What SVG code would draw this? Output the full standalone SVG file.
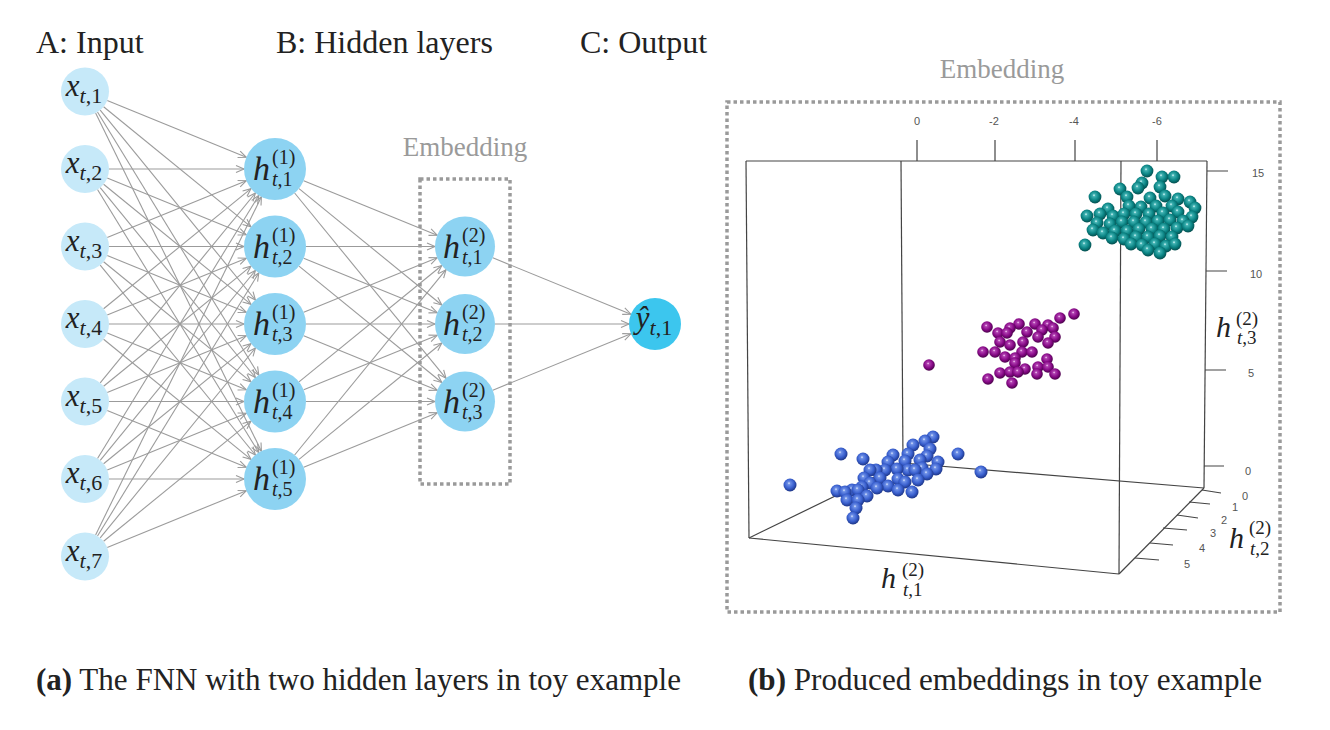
<svg xmlns="http://www.w3.org/2000/svg" width="1330" height="730" viewBox="0 0 1330 730">
<defs>
<style>
.ser{font-family:"Liberation Serif","Times New Roman",serif;fill:#222}
.i{font-style:italic}
.tick{font-family:"Liberation Sans",Arial,sans-serif;font-size:11px;fill:#555;text-anchor:middle}
.c path{fill:none;stroke:#9b9b9b;stroke-width:1.1;marker-end:url(#ah)}
.nin{fill:#c6e9f9}
.nh{fill:#8dd3f2}
.nout{fill:#3cc6ee}
.dot{fill:none;stroke:#9a9a9a;stroke-width:3.5;stroke-dasharray:3.5 3}
.ax line,.ax path{stroke:#444;stroke-width:1.2;fill:none}
</style>
<marker id="ah" markerWidth="12" markerHeight="10" refX="9" refY="4" orient="auto" markerUnits="userSpaceOnUse" overflow="visible">
<path d="M1,0.5 L9,4 L1,7.5" fill="none" stroke="#9b9b9b" stroke-width="1.1"/>
</marker>
<radialGradient id="gT" cx="0.45" cy="0.42" r="0.6" fx="0.42" fy="0.36">
<stop offset="0" stop-color="#e8ffff"/><stop offset="0.18" stop-color="#3fb1b1"/><stop offset="0.6" stop-color="#0b8585"/><stop offset="1" stop-color="#034a4a"/>
</radialGradient>
<radialGradient id="gP" cx="0.45" cy="0.42" r="0.6" fx="0.42" fy="0.36">
<stop offset="0" stop-color="#ffe0ff"/><stop offset="0.18" stop-color="#b040b0"/><stop offset="0.6" stop-color="#880a88"/><stop offset="1" stop-color="#430043"/>
</radialGradient>
<radialGradient id="gB" cx="0.45" cy="0.42" r="0.6" fx="0.42" fy="0.36">
<stop offset="0" stop-color="#e6eeff"/><stop offset="0.18" stop-color="#6d8fe6"/><stop offset="0.6" stop-color="#3a60cf"/><stop offset="1" stop-color="#1a3180"/>
</radialGradient>
</defs>
<rect width="1330" height="730" fill="#fff"/>

<!-- titles -->
<g id="titles" class="ser" font-size="32">
<text x="36" y="53">A: Input</text>
<text x="276" y="53">B: Hidden layers</text>
<text x="580" y="53">C: Output</text>
</g>

<!-- embedding box (left) -->
<g id="embedding-box">
<text class="ser" x="465" y="156" font-size="27" text-anchor="middle" style="fill:#9a9a9a">Embedding</text>
<rect class="dot" x="420" y="179" width="90" height="305"/>
</g>

<!-- connectors -->
<g id="connectors" class="c">
<path d="M107.2,100.6L246.3,157.3"/><path d="M103.6,106.7L251,226.9"/><path d="M100.2,110.1L255.4,300"/><path d="M97.5,112L258.8,375.1"/><path d="M95.6,113.1L261.4,451.2"/>
<path d="M109,169L244,169"/><path d="M107.2,178.1L246.3,234.8"/><path d="M103.6,184.2L251,304.4"/><path d="M100.2,187.6L255.4,377.5"/><path d="M97.5,189.5L258.8,452.6"/>
<path d="M107.2,237.4L246.3,180.7"/><path d="M109,246.5L244,246.5"/><path d="M107.2,255.6L246.3,312.3"/><path d="M103.6,261.7L251,381.9"/><path d="M100.2,265.1L255.4,455"/>
<path d="M103.6,308.8L251,188.6"/><path d="M107.2,314.9L246.3,258.2"/><path d="M109,324L244,324"/><path d="M107.2,333.1L246.3,389.8"/><path d="M103.6,339.2L251,459.4"/>
<path d="M100.2,382.9L255.4,193"/><path d="M103.6,386.3L251,266.1"/><path d="M107.2,392.4L246.3,335.7"/><path d="M109,401.5L244,401.5"/><path d="M107.2,410.6L246.3,467.3"/>
<path d="M97.5,458.5L258.8,195.4"/><path d="M100.2,460.4L255.4,270.5"/><path d="M103.6,463.8L251,343.6"/><path d="M107.2,469.9L246.3,413.2"/><path d="M109,479L244,479"/>
<path d="M95.6,534.9L261.4,196.8"/><path d="M97.5,536L258.8,272.9"/><path d="M100.2,537.9L255.4,348"/><path d="M103.6,541.3L251,421.1"/><path d="M107.2,547.4L246.3,490.7"/>
<path d="M303.7,180.7L437.2,235.2"/><path d="M299,188.6L441.8,305"/><path d="M294.6,193L446,378.3"/>
<path d="M306,246.5L435,246.5"/><path d="M303.7,258.2L437.2,312.7"/><path d="M299,266.1L441.8,382.5"/>
<path d="M303.7,312.3L437.2,257.8"/><path d="M306,324L435,324"/><path d="M303.7,335.7L437.2,390.2"/>
<path d="M299,381.9L441.8,265.5"/><path d="M303.7,389.8L437.2,335.3"/><path d="M306,401.5L435,401.5"/>
<path d="M294.6,455L446,269.7"/><path d="M299,459.4L441.8,343"/><path d="M303.7,467.3L437.2,412.8"/>
<path d="M492.8,257.8L630.9,314.2"/><path d="M495,324L629,324"/><path d="M492.8,390.2L630.9,333.8"/>
</g>

<!-- input nodes -->
<g id="x1"><circle class="nin" cx="85" cy="91.5" r="24"/><text class="ser" x="84" y="95.5" font-size="31" text-anchor="middle"><tspan class="i">x</tspan><tspan font-size="22" dy="7"><tspan class="i">t</tspan>,1</tspan></text></g>
<g id="x2"><circle class="nin" cx="85" cy="169" r="24"/><text class="ser" x="84" y="173" font-size="31" text-anchor="middle"><tspan class="i">x</tspan><tspan font-size="22" dy="7"><tspan class="i">t</tspan>,2</tspan></text></g>
<g id="x3"><circle class="nin" cx="85" cy="246.5" r="24"/><text class="ser" x="84" y="250.5" font-size="31" text-anchor="middle"><tspan class="i">x</tspan><tspan font-size="22" dy="7"><tspan class="i">t</tspan>,3</tspan></text></g>
<g id="x4"><circle class="nin" cx="85" cy="324" r="24"/><text class="ser" x="84" y="328" font-size="31" text-anchor="middle"><tspan class="i">x</tspan><tspan font-size="22" dy="7"><tspan class="i">t</tspan>,4</tspan></text></g>
<g id="x5"><circle class="nin" cx="85" cy="401.5" r="24"/><text class="ser" x="84" y="405.5" font-size="31" text-anchor="middle"><tspan class="i">x</tspan><tspan font-size="22" dy="7"><tspan class="i">t</tspan>,5</tspan></text></g>
<g id="x6"><circle class="nin" cx="85" cy="479" r="24"/><text class="ser" x="84" y="483" font-size="31" text-anchor="middle"><tspan class="i">x</tspan><tspan font-size="22" dy="7"><tspan class="i">t</tspan>,6</tspan></text></g>
<g id="x7"><circle class="nin" cx="85" cy="556.5" r="24"/><text class="ser" x="84" y="560.5" font-size="31" text-anchor="middle"><tspan class="i">x</tspan><tspan font-size="22" dy="7"><tspan class="i">t</tspan>,7</tspan></text></g>

<!-- hidden layer 1 -->
<g id="h1_1"><circle class="nh" cx="275" cy="169" r="31"/><text class="ser"><tspan class="i" x="253" y="180" font-size="34">h</tspan><tspan x="272" y="164" font-size="20">(1)</tspan><tspan x="272" y="186" font-size="20"><tspan class="i">t</tspan>,1</tspan></text></g>
<g id="h1_2"><circle class="nh" cx="275" cy="246.5" r="31"/><text class="ser"><tspan class="i" x="253" y="257.5" font-size="34">h</tspan><tspan x="272" y="241.5" font-size="20">(1)</tspan><tspan x="272" y="263.5" font-size="20"><tspan class="i">t</tspan>,2</tspan></text></g>
<g id="h1_3"><circle class="nh" cx="275" cy="324" r="31"/><text class="ser"><tspan class="i" x="253" y="335" font-size="34">h</tspan><tspan x="272" y="319" font-size="20">(1)</tspan><tspan x="272" y="341" font-size="20"><tspan class="i">t</tspan>,3</tspan></text></g>
<g id="h1_4"><circle class="nh" cx="275" cy="401.5" r="31"/><text class="ser"><tspan class="i" x="253" y="412.5" font-size="34">h</tspan><tspan x="272" y="396.5" font-size="20">(1)</tspan><tspan x="272" y="418.5" font-size="20"><tspan class="i">t</tspan>,4</tspan></text></g>
<g id="h1_5"><circle class="nh" cx="275" cy="479" r="31"/><text class="ser"><tspan class="i" x="253" y="490" font-size="34">h</tspan><tspan x="272" y="474" font-size="20">(1)</tspan><tspan x="272" y="496" font-size="20"><tspan class="i">t</tspan>,5</tspan></text></g>

<!-- hidden layer 2 -->
<g id="h2_1"><circle class="nh" cx="465" cy="246.5" r="30"/><text class="ser"><tspan class="i" x="443" y="257.5" font-size="34">h</tspan><tspan x="462" y="241.5" font-size="20">(2)</tspan><tspan x="462" y="263.5" font-size="20"><tspan class="i">t</tspan>,1</tspan></text></g>
<g id="h2_2"><circle class="nh" cx="465" cy="324" r="30"/><text class="ser"><tspan class="i" x="443" y="335" font-size="34">h</tspan><tspan x="462" y="319" font-size="20">(2)</tspan><tspan x="462" y="341" font-size="20"><tspan class="i">t</tspan>,2</tspan></text></g>
<g id="h2_3"><circle class="nh" cx="465" cy="401.5" r="30"/><text class="ser"><tspan class="i" x="443" y="412.5" font-size="34">h</tspan><tspan x="462" y="396.5" font-size="20">(2)</tspan><tspan x="462" y="418.5" font-size="20"><tspan class="i">t</tspan>,3</tspan></text></g>

<!-- output -->
<g id="y1"><circle class="nout" cx="655" cy="324" r="26"/><text class="ser" x="654" y="328" font-size="31" text-anchor="middle"><tspan class="i">ŷ</tspan><tspan font-size="22" dy="7"><tspan class="i">t</tspan>,1</tspan></text></g>

<!-- right panel -->
<g id="embedding-plot">
<text class="ser" x="1002" y="78" font-size="27" text-anchor="middle" style="fill:#9a9a9a">Embedding</text>
<rect class="dot" x="727" y="102" width="553" height="510"/>
<g class="ax">
<path d="M746,161H1207"/>
<path d="M746,161L749,538"/>
<path d="M901,161L903,463"/>
<path d="M1121,161L1119,574"/>
<path d="M1207,161L1204,488"/>
<path d="M749,538L1119,574"/>
<path d="M749,538L903,463"/>
<path d="M903,463L1204,488"/>
<path d="M1204,488L1119,574"/>
<path d="M917,140V161M995,140V161M1075,140V161M1157,140V161"/>
<path d="M1207,171H1228M1206,271H1227M1205,370H1226M1204,466H1224"/>
<path d="M1202,490L1221,493M1189,502L1210,504M1177,515L1198,518M1163,528L1187,530M1150,543L1173,545M1135,558L1159,560"/>
</g>
<g class="tick">
<text x="917" y="125">0</text><text x="994" y="125">-2</text><text x="1074" y="125">-4</text><text x="1157" y="125">-6</text>
<text x="1258" y="177">15</text><text x="1256" y="278">10</text><text x="1251" y="377">5</text><text x="1248" y="475">0</text>
<text x="1245" y="500">0</text><text x="1235" y="511">1</text><text x="1224" y="524">2</text><text x="1213" y="537">3</text><text x="1202" y="552">4</text><text x="1187" y="568">5</text>
</g>
<g fill="url(#gT)">
<circle cx="1147" cy="171" r="6.4"/><circle cx="1162" cy="177" r="6.4"/><circle cx="1174" cy="177" r="6.4"/><circle cx="1142" cy="183" r="6.4"/><circle cx="1138" cy="188" r="6.4"/><circle cx="1160" cy="187" r="6.4"/><circle cx="1120" cy="189" r="6.4"/><circle cx="1095" cy="197" r="6.4"/><circle cx="1127" cy="197" r="6.4"/><circle cx="1150" cy="198" r="6.4"/><circle cx="1165" cy="196" r="6.4"/><circle cx="1178" cy="199" r="6.4"/><circle cx="1190" cy="202" r="6.4"/><circle cx="1172" cy="206" r="6.4"/><circle cx="1156" cy="206" r="6.4"/><circle cx="1141" cy="207" r="6.4"/><circle cx="1129" cy="206" r="6.4"/><circle cx="1108" cy="209" r="6.4"/><circle cx="1100" cy="214" r="6.4"/><circle cx="1087" cy="216" r="6.4"/><circle cx="1113" cy="216" r="6.4"/><circle cx="1124" cy="214" r="6.4"/><circle cx="1136" cy="214" r="6.4"/><circle cx="1149" cy="214" r="6.4"/><circle cx="1163" cy="213" r="6.4"/><circle cx="1178" cy="212" r="6.4"/><circle cx="1195" cy="208" r="6.4"/><circle cx="1192" cy="217" r="6.4"/><circle cx="1097" cy="223" r="6.4"/><circle cx="1110" cy="224" r="6.4"/><circle cx="1122" cy="222" r="6.4"/><circle cx="1134" cy="222" r="6.4"/><circle cx="1146" cy="222" r="6.4"/><circle cx="1158" cy="221" r="6.4"/><circle cx="1170" cy="220" r="6.4"/><circle cx="1183" cy="221" r="6.4"/><circle cx="1093" cy="230" r="6.4"/><circle cx="1103" cy="233" r="6.4"/><circle cx="1115" cy="231" r="6.4"/><circle cx="1127" cy="231" r="6.4"/><circle cx="1139" cy="229" r="6.4"/><circle cx="1152" cy="229" r="6.4"/><circle cx="1164" cy="229" r="6.4"/><circle cx="1177" cy="228" r="6.4"/><circle cx="1188" cy="226" r="6.4"/><circle cx="1112" cy="238" r="6.4"/><circle cx="1124" cy="239" r="6.4"/><circle cx="1136" cy="237" r="6.4"/><circle cx="1148" cy="237" r="6.4"/><circle cx="1160" cy="236" r="6.4"/><circle cx="1172" cy="237" r="6.4"/><circle cx="1085" cy="245" r="6.4"/><circle cx="1131" cy="244" r="6.4"/><circle cx="1142" cy="245" r="6.4"/><circle cx="1155" cy="244" r="6.4"/><circle cx="1166" cy="246" r="6.4"/><circle cx="1175" cy="244" r="6.4"/><circle cx="1148" cy="250" r="6.4"/><circle cx="1160" cy="253" r="6.4"/>
</g>
<g fill="url(#gP)">
<circle cx="929" cy="365" r="5.8"/>
<circle cx="1074" cy="314" r="5.8"/><circle cx="1060" cy="318" r="5.8"/><circle cx="987" cy="327" r="5.8"/><circle cx="1019" cy="324" r="5.8"/><circle cx="1035" cy="324" r="5.8"/><circle cx="1048" cy="325" r="5.8"/><circle cx="1010" cy="328" r="5.8"/><circle cx="1053" cy="328" r="5.8"/><circle cx="1042" cy="330" r="5.8"/><circle cx="1027" cy="332" r="5.8"/><circle cx="998" cy="333" r="5.8"/><circle cx="1007" cy="333" r="5.8"/><circle cx="1038" cy="337" r="5.8"/><circle cx="1055" cy="337" r="5.8"/><circle cx="1000" cy="342" r="5.8"/><circle cx="1023" cy="342" r="5.8"/><circle cx="1048" cy="343" r="5.8"/><circle cx="1010" cy="345" r="5.8"/><circle cx="983" cy="352" r="5.8"/><circle cx="995" cy="352" r="5.8"/><circle cx="1022" cy="352" r="5.8"/><circle cx="1032" cy="352" r="5.8"/><circle cx="1005" cy="357" r="5.8"/><circle cx="1015" cy="358" r="5.8"/><circle cx="1047" cy="359" r="5.8"/><circle cx="1015" cy="363" r="5.8"/><circle cx="1038" cy="367" r="5.8"/><circle cx="1048" cy="367" r="5.8"/><circle cx="1025" cy="369" r="5.8"/><circle cx="1000" cy="373" r="5.8"/><circle cx="1010" cy="372" r="5.8"/><circle cx="1018" cy="372" r="5.8"/><circle cx="1037" cy="374" r="5.8"/><circle cx="1055" cy="374" r="5.8"/><circle cx="988" cy="379" r="5.8"/><circle cx="1012" cy="383" r="5.8"/>
</g>
<g fill="url(#gB)">
<circle cx="790" cy="485" r="6.5"/><circle cx="841" cy="454" r="6.5"/><circle cx="863" cy="459" r="6.5"/><circle cx="958" cy="454" r="6.5"/><circle cx="981" cy="472" r="6.5"/>
<circle cx="933" cy="437" r="6.5"/><circle cx="925" cy="441" r="6.5"/><circle cx="913" cy="445" r="6.5"/><circle cx="908" cy="454" r="6.5"/><circle cx="930" cy="449" r="6.5"/><circle cx="893" cy="455" r="6.5"/><circle cx="927" cy="456" r="6.5"/><circle cx="920" cy="460" r="6.5"/><circle cx="905" cy="461" r="6.5"/><circle cx="888" cy="462" r="6.5"/><circle cx="938" cy="462" r="6.5"/><circle cx="922" cy="468" r="6.5"/><circle cx="908" cy="470" r="6.5"/><circle cx="936" cy="469" r="6.5"/><circle cx="897" cy="469" r="6.5"/><circle cx="885" cy="470" r="6.5"/><circle cx="876" cy="470" r="6.5"/><circle cx="870" cy="470" r="6.5"/><circle cx="915" cy="470" r="6.5"/><circle cx="927" cy="474" r="6.5"/><circle cx="864" cy="478" r="6.5"/><circle cx="880" cy="478" r="6.5"/><circle cx="898" cy="479" r="6.5"/><circle cx="918" cy="480" r="6.5"/><circle cx="905" cy="482" r="6.5"/><circle cx="870" cy="483" r="6.5"/><circle cx="888" cy="486" r="6.5"/><circle cx="862" cy="487" r="6.5"/><circle cx="877" cy="488" r="6.5"/><circle cx="852" cy="490" r="6.5"/><circle cx="858" cy="490" r="6.5"/><circle cx="898" cy="490" r="6.5"/><circle cx="837" cy="491" r="6.5"/><circle cx="845" cy="492" r="6.5"/><circle cx="912" cy="492" r="6.5"/><circle cx="867" cy="496" r="6.5"/><circle cx="847" cy="500" r="6.5"/><circle cx="858" cy="500" r="6.5"/><circle cx="856" cy="508" r="6.5"/><circle cx="853" cy="518" r="6.5"/>
</g>
<text class="ser"><tspan class="i" x="1216" y="337" font-size="30">h</tspan><tspan x="1236" y="325" font-size="19">(2)</tspan><tspan x="1237" y="344" font-size="19"><tspan class="i">t</tspan>,3</tspan></text>
<text class="ser"><tspan class="i" x="1229" y="548" font-size="30">h</tspan><tspan x="1249" y="534" font-size="19">(2)</tspan><tspan x="1250" y="555" font-size="19"><tspan class="i">t</tspan>,2</tspan></text>
<text class="ser"><tspan class="i" x="881" y="588" font-size="30">h</tspan><tspan x="902" y="576" font-size="19">(2)</tspan><tspan x="903" y="596" font-size="19"><tspan class="i">t</tspan>,1</tspan></text>
</g>

<!-- captions -->
<g id="captions" class="ser" font-size="32">
<text x="36" y="690" textLength="645" lengthAdjust="spacingAndGlyphs"><tspan font-weight="bold">(a)</tspan> The FNN with two hidden layers in toy example</text>
<text x="748" y="690" textLength="514" lengthAdjust="spacingAndGlyphs"><tspan font-weight="bold">(b)</tspan> Produced embeddings in toy example</text>
</g>
</svg>
